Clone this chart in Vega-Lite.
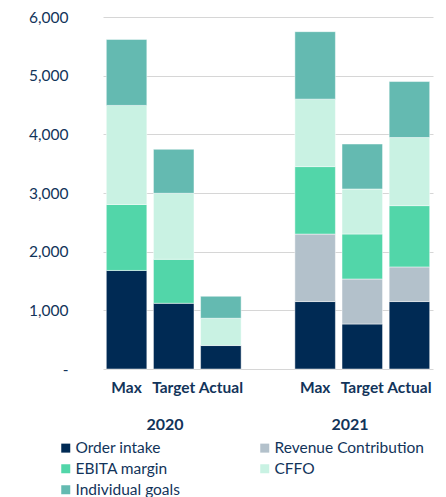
{
  "$schema": "https://vega.github.io/schema/vega-lite/v6.json",
  "width": 330,
  "height": 352,
  "autosize": {"type": "none"},
  "padding": {"left": 103, "top": 17, "right": 13, "bottom": 128},
  "config": {
    "view": {"stroke": null},
    "font": "Lato",
    "axis": {"labelColor": "#12345a", "titleColor": "#12345a"},
    "legend": {"labelColor": "#12345a"}
  },
  "datasets": {
    "bars": [
      {"cat": "Max|2020", "metric": "Order intake", "value": 1680},
      {"cat": "Max|2020", "metric": "EBITA margin", "value": 1125},
      {"cat": "Max|2020", "metric": "CFFO", "value": 1688},
      {"cat": "Max|2020", "metric": "Individual goals", "value": 1125},
      {"cat": "Target|2020", "metric": "Order intake", "value": 1120},
      {"cat": "Target|2020", "metric": "EBITA margin", "value": 750},
      {"cat": "Target|2020", "metric": "CFFO", "value": 1125},
      {"cat": "Target|2020", "metric": "Individual goals", "value": 750},
      {"cat": "Actual|2020", "metric": "Order intake", "value": 400},
      {"cat": "Actual|2020", "metric": "CFFO", "value": 465},
      {"cat": "Actual|2020", "metric": "Individual goals", "value": 375},
      {"cat": "Max|2021", "metric": "Order intake", "value": 1150},
      {"cat": "Max|2021", "metric": "Revenue Contribution", "value": 1150},
      {"cat": "Max|2021", "metric": "EBITA margin", "value": 1150},
      {"cat": "Max|2021", "metric": "CFFO", "value": 1150},
      {"cat": "Max|2021", "metric": "Individual goals", "value": 1150},
      {"cat": "Target|2021", "metric": "Order intake", "value": 767},
      {"cat": "Target|2021", "metric": "Revenue Contribution", "value": 767},
      {"cat": "Target|2021", "metric": "EBITA margin", "value": 767},
      {"cat": "Target|2021", "metric": "CFFO", "value": 767},
      {"cat": "Target|2021", "metric": "Individual goals", "value": 767},
      {"cat": "Actual|2021", "metric": "Order intake", "value": 1150},
      {"cat": "Actual|2021", "metric": "Revenue Contribution", "value": 590},
      {"cat": "Actual|2021", "metric": "EBITA margin", "value": 1045},
      {"cat": "Actual|2021", "metric": "CFFO", "value": 1160},
      {"cat": "Actual|2021", "metric": "Individual goals", "value": 955}
    ],
    "years": [{"year": "2020"}, {"year": "2021"}]
  },
  "layer": [
    {
      "data": {"name": "bars"},
      "transform": [
        {"calculate": "indexof(['Order intake','Revenue Contribution','EBITA margin','CFFO','Individual goals'], datum.metric)", "as": "rank"}
      ],
      "mark": {"type": "bar", "stroke": "#ffffff", "strokeWidth": 0.8, "strokeOpacity": 0.6},
      "encoding": {
        "x": {
          "field": "cat",
          "type": "nominal",
          "scale": {
            "domain": ["Max|2020", "Target|2020", "Actual|2020", "gap", "Max|2021", "Target|2021", "Actual|2021"],
            "paddingInner": 0.14,
            "paddingOuter": 0.07
          },
          "axis": {
            "title": null,
            "labelAngle": 0,
            "domain": false,
            "ticks": false,
            "tickSize": 0,
            "labelPadding": 11,
            "labelFontSize": 15.5,
            "labelFontWeight": "bold",
            "labelLimit": 200,
            "labelExpr": "datum.label == 'gap' ? '' : split(datum.label, '|')[0]"
          }
        },
        "y": {
          "field": "value",
          "type": "quantitative",
          "stack": "zero",
          "scale": {"domain": [0, 6000], "nice": false},
          "axis": {
            "title": null,
            "values": [0, 1000, 2000, 3000, 4000, 5000, 6000],
            "domain": false,
            "ticks": false,
            "tickSize": 0,
            "grid": true,
            "gridColor": "#d6d6d6",
            "gridWidth": 1,
            "labelPadding": 35,
            "labelFontSize": 15.5,
            "labelExpr": "datum.value == 0 ? '-\u00a0\u00a0\u00a0' : format(datum.value, ',')"
          }
        },
        "color": {
          "field": "metric",
          "type": "nominal",
          "scale": {
            "domain": ["Order intake", "Revenue Contribution", "EBITA margin", "CFFO", "Individual goals"],
            "range": ["#002a54", "#b3c1cb", "#52d6a9", "#c9f2e3", "#64bab1"]
          },
          "legend": {
            "title": null,
            "orient": "none",
            "direction": "horizontal",
            "legendX": -45,
            "legendY": 423,
            "columns": 2,
            "columnPadding": 77,
            "rowPadding": 4,
            "symbolType": "square",
            "symbolSize": 81,
            "symbolStrokeWidth": 0,
            "labelFontSize": 15.5,
            "labelOffset": 2,
            "labelLimit": 300
          }
        },
        "order": {"field": "rank", "type": "quantitative", "sort": "ascending"}
      }
    },
    {
      "data": {"name": "years"},
      "mark": {"type": "text", "text": ""},
      "encoding": {
        "x": {
          "field": "year",
          "type": "nominal",
          "scale": {
            "type": "band",
            "domain": ["2020", "2021"],
            "paddingInner": 0.33,
            "paddingOuter": 0.057,
            "align": 0
          },
          "axis": {
            "orient": "bottom",
            "title": null,
            "labelAngle": 0,
            "domain": false,
            "ticks": false,
            "tickSize": 0,
            "offset": 47,
            "labelPadding": 0,
            "labelFontSize": 16,
            "labelFontWeight": "bold"
          }
        }
      }
    }
  ],
  "resolve": {"scale": {"x": "independent"}, "axis": {"x": "independent"}}
}
